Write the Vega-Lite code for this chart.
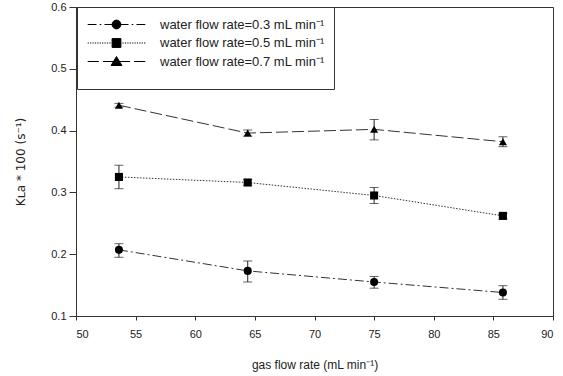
{
  "$schema": "https://vega.github.io/schema/vega-lite/v6.json",
  "width": 477,
  "height": 309,
  "autosize": {"type": "none"},
  "padding": {"left": 76, "top": 7, "right": 10, "bottom": 60},
  "background": "white",
  "config": {
    "font": "Liberation Sans",
    "view": {"stroke": "#333", "strokeWidth": 1},
    "axis": {"grid": false, "domainColor": "#333", "tickColor": "#333", "labelColor": "#222", "titleColor": "#222", "labelFont": "Liberation Sans", "titleFont": "Liberation Sans", "labelFontSize": 11, "titleFontSize": 12, "titleFontWeight": "normal", "tickSize": 4}
  },
  "data": {"values": [
    {"gas": 53.6, "kla": 0.207, "lo": 0.195, "hi": 0.217, "series": "water flow rate=0.3 mL min⁻¹"},
    {"gas": 64.4, "kla": 0.173, "lo": 0.155, "hi": 0.189, "series": "water flow rate=0.3 mL min⁻¹"},
    {"gas": 75.0, "kla": 0.155, "lo": 0.145, "hi": 0.164, "series": "water flow rate=0.3 mL min⁻¹"},
    {"gas": 85.8, "kla": 0.138, "lo": 0.127, "hi": 0.149, "series": "water flow rate=0.3 mL min⁻¹"},
    {"gas": 53.6, "kla": 0.325, "lo": 0.306, "hi": 0.344, "series": "water flow rate=0.5 mL min⁻¹"},
    {"gas": 64.4, "kla": 0.316, "lo": 0.311, "hi": 0.321, "series": "water flow rate=0.5 mL min⁻¹"},
    {"gas": 75.0, "kla": 0.295, "lo": 0.282, "hi": 0.308, "series": "water flow rate=0.5 mL min⁻¹"},
    {"gas": 85.8, "kla": 0.262, "lo": 0.257, "hi": 0.266, "series": "water flow rate=0.5 mL min⁻¹"},
    {"gas": 53.6, "kla": 0.441, "lo": 0.438, "hi": 0.444, "series": "water flow rate=0.7 mL min⁻¹"},
    {"gas": 64.4, "kla": 0.396, "lo": 0.391, "hi": 0.401, "series": "water flow rate=0.7 mL min⁻¹"},
    {"gas": 75.0, "kla": 0.402, "lo": 0.385, "hi": 0.418, "series": "water flow rate=0.7 mL min⁻¹"},
    {"gas": 85.8, "kla": 0.382, "lo": 0.374, "hi": 0.390, "series": "water flow rate=0.7 mL min⁻¹"}
  ]},
  "encoding": {
    "x": {"field": "gas", "type": "quantitative", "scale": {"domain": [50, 90], "nice": false, "zero": false},
      "axis": {"values": [50,55,60,65,70,75,80,85,90], "title": "gas flow rate (mL min⁻¹)", "labelPadding": 8, "titlePadding": 20}},
    "y": {"field": "kla", "type": "quantitative", "scale": {"domain": [0.1, 0.6], "nice": false, "zero": false},
      "axis": {"values": [0.1,0.2,0.3,0.4,0.5,0.6], "format": ".1f", "title": "Kʟa * 100 (s⁻¹)", "titleFont": "DejaVu Sans", "titleFontSize": 12, "tickSize": 7, "labelPadding": 3, "titlePadding": 23}}
  },
  "layer": [
    {
      "mark": {"type": "line", "color": "#333", "strokeWidth": 1},
      "encoding": {
        "detail": {"field": "series"},
        "strokeDash": {"field": "series", "type": "nominal", "legend": null,
          "scale": {"range": [[9, 3, 2, 3], [1.5, 1.5], [12, 4]]}}
      }
    },
    {
      "mark": {"type": "rule", "color": "#222", "strokeWidth": 1},
      "encoding": {"y": {"field": "lo", "type": "quantitative"}, "y2": {"field": "hi"}}
    },
    {
      "mark": {"type": "tick", "orient": "horizontal", "color": "#222", "size": 9, "thickness": 1},
      "encoding": {"y": {"field": "lo", "type": "quantitative"}}
    },
    {
      "mark": {"type": "tick", "orient": "horizontal", "color": "#222", "size": 9, "thickness": 1},
      "encoding": {"y": {"field": "hi", "type": "quantitative"}}
    },
    {
      "mark": {"type": "point", "filled": true, "color": "black", "opacity": 1, "size": 65},
      "encoding": {
        "shape": {"field": "series", "type": "nominal", "legend": null,
          "scale": {"range": ["circle", "square", "triangle-up"]}}
      }
    },
    {
      "transform": [{"filter": "datum.gas < 0"}],
      "mark": {"type": "point", "filled": true, "fill": "black", "stroke": "black", "strokeWidth": 1, "opacity": 1, "size": 256},
      "encoding": {
        "shape": {"field": "series", "type": "nominal",
          "scale": {
            "domain": ["water flow rate=0.3 mL min⁻¹", "water flow rate=0.5 mL min⁻¹", "water flow rate=0.7 mL min⁻¹"],
            "range": [
              "M-3.6,0H-2.5M-2.1,0H-1.9M-1.5,0H-0.5M0.5,0H1.5M1.9,0H2.1M2.5,0H3.6M0.55,0A0.55,0.55,0,1,1,-0.55,0A0.55,0.55,0,1,1,0.55,0Z",
              "M-3.6,0h0.15M-3.3,0h0.15M-3,0h0.15M-2.7,0h0.15M-2.4,0h0.15M-2.1,0h0.15M-1.8,0h0.15M-1.5,0h0.15M-1.2,0h0.15M-0.9,0h0.15M0.75,0h0.15M1.05,0h0.15M1.35,0h0.15M1.65,0h0.15M1.95,0h0.15M2.25,0h0.15M2.55,0h0.15M2.85,0h0.15M3.15,0h0.15M3.45,0h0.15M-0.55,-0.55H0.55V0.55H-0.55Z",
              "M-3.6,0H-2.2M-1.7,0H-0.4M0.4,0H1.7M2.2,0H3.6M0,-0.62L0.68,0.5H-0.68Z"
            ]
          },
          "legend": {
            "title": " ",
            "titleOrient": "bottom",
            "titleFontSize": 10,
            "titlePadding": 1,
            "orient": "none",
            "legendX": 1,
            "legendY": 0,
            "padding": 9,
            "symbolSize": 256,
            "symbolOffset": 22,
            "labelOffset": 35,
            "rowPadding": 2.5,
            "strokeColor": "#333",
            "fillColor": "white",
            "labelFont": "Liberation Sans",
            "labelFontSize": 13,
            "labelColor": "#222",
            "labelLimit": 300,
            "symbolStrokeWidth": 1
          }
        }
      }
    }
  ],
  "resolve": {"scale": {"shape": "independent"}, "legend": {"shape": "independent"}}
}
